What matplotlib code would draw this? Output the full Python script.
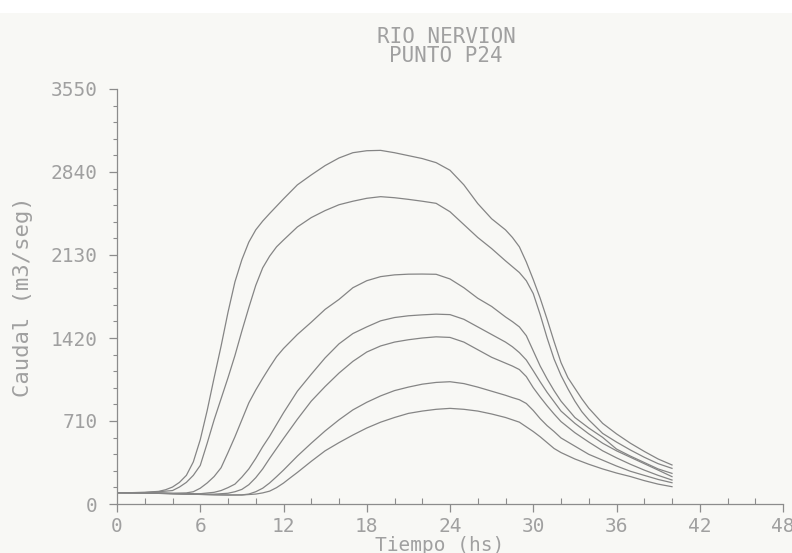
import numpy as np
import matplotlib.pyplot as plt
from matplotlib.ticker import MultipleLocator
from matplotlib.patches import Rectangle

plt.rcParams['font.family'] = ['DejaVu Sans Mono']

# Flow readings (m3/seg) for each hydrograph, with their times (hs)
t1 = [0, 1, 2, 3, 3.5, 4, 4.5, 5, 5.5, 6, 6.5, 7, 7.5, 8, 8.5, 9, 9.5, 10, 10.5, 11, 12, 13,
      14, 15, 16, 17, 18, 19, 20, 21, 22, 23, 24, 25, 26, 27, 28, 28.5, 29, 29.5, 30, 30.5,
      31, 31.5, 32, 32.5, 33, 33.5, 34, 35, 36, 37, 38, 39, 40]
q1 = [97, 97, 100, 108, 122, 145, 185, 245, 360, 550, 800, 1080, 1350, 1640, 1900, 2090,
      2240, 2345, 2420, 2485, 2610, 2730, 2815, 2895, 2960, 3005, 3022, 3025, 3005, 2980,
      2955, 2920, 2855, 2730, 2570, 2440, 2345, 2280, 2200, 2070, 1920, 1760, 1580, 1390,
      1210, 1080, 990, 900, 820, 690, 600, 520, 450, 385, 334]

t2 = [0, 1, 2, 3, 4, 4.5, 5, 5.5, 6, 6.5, 7, 7.5, 8, 8.5, 9, 9.5, 10, 10.5, 11, 11.5, 12,
      13, 14, 15, 16, 17, 18, 19, 20, 21, 22, 23, 24, 25, 26, 27, 28, 29, 29.5, 30, 30.5,
      31, 31.5, 32, 32.5, 33, 33.5, 34, 35, 36, 37, 38, 39, 40]
q2 = [97, 97, 98, 105, 115, 145, 185, 245, 330, 520, 720, 900, 1080, 1270, 1480, 1680,
      1870, 2020, 2120, 2200, 2258, 2370, 2450, 2510, 2560, 2590, 2615, 2629, 2620, 2606,
      2590, 2572, 2500, 2390, 2280, 2185, 2080, 1980, 1910, 1800, 1620, 1420, 1240, 1100,
      985, 880, 790, 720, 604, 530, 462, 400, 345, 305]

t3 = [0, 1, 2, 3, 4, 5, 5.5, 6, 6.5, 7, 7.5, 8, 8.5, 9, 9.5, 10, 10.5, 11, 11.5, 12, 13,
      14, 15, 16, 17, 18, 19, 20, 21, 22, 23, 24, 25, 26, 27, 28, 28.5, 29, 29.5, 30, 30.5,
      31, 31.5, 32, 32.5, 33, 34, 35, 36, 37, 38, 39, 40]
q3 = [97, 96, 95, 94, 92, 95, 105, 135, 180, 235, 310, 440, 575, 720, 865, 975, 1075,
      1170, 1260, 1330, 1450, 1555, 1665, 1750, 1850, 1910, 1945, 1960, 1966, 1967, 1965,
      1925, 1850, 1760, 1690, 1600, 1560, 1515, 1440, 1310, 1180, 1070, 970, 880, 810,
      740, 650, 570, 470, 410, 355, 300, 262]

t4 = [0, 1, 2, 3, 4, 5, 6, 7, 7.5, 8, 8.5, 9, 9.5, 10, 10.5, 11, 12, 13, 14, 15, 16, 17,
      18, 19, 20, 21, 22, 23, 24, 25, 26, 27, 28, 28.5, 29, 29.5, 30, 30.5, 31, 31.5, 32,
      33, 34, 35, 36, 37, 38, 39, 40]
q4 = [97, 96, 95, 93, 90, 88, 88, 100, 115, 140, 170, 230, 300, 390, 490, 580, 780, 965,
      1110, 1250, 1370, 1458, 1515, 1567, 1595, 1610, 1618, 1624, 1620, 1580, 1515, 1450,
      1385, 1345, 1295, 1232, 1140, 1045, 955, 875, 795, 690, 600, 520, 455, 400, 345,
      290, 234]

t5 = [0, 1, 2, 3, 4, 5, 6, 7, 8, 8.5, 9, 9.5, 10, 10.5, 11, 11.5, 12, 13, 14, 15, 16, 17,
      18, 19, 20, 21, 22, 23, 24, 25, 26, 27, 28, 28.5, 29, 29.5, 30, 30.5, 31, 31.5, 32,
      33, 34, 35, 36, 37, 38, 39, 40]
q5 = [97, 96, 95, 92, 89, 86, 84, 84, 92, 105, 125, 165, 225, 300, 390, 475, 560, 725,
      880, 1005, 1120, 1220, 1300, 1352, 1385, 1405, 1420, 1430, 1425, 1385, 1320, 1255,
      1205, 1180, 1150, 1090, 995, 915, 840, 770, 705, 610, 530, 455, 395, 340, 290, 245,
      205]

t6 = [0, 1, 2, 3, 4, 5, 6, 7, 8, 9, 9.5, 10, 10.5, 11, 11.5, 12, 13, 14, 15, 16, 17, 18,
      19, 20, 21, 22, 23, 24, 25, 26, 27, 28, 28.5, 29, 29.5, 30, 30.5, 31, 31.5, 32, 33,
      34, 35, 36, 37, 38, 39, 40]
q6 = [97, 96, 94, 91, 88, 85, 82, 79, 77, 78, 85, 105, 135, 180, 234, 290, 410, 520, 625,
      720, 805, 870, 925, 970, 1000, 1025, 1040, 1046, 1030, 1000, 965, 930, 910, 892,
      860, 800, 730, 670, 620, 565, 495, 425, 375, 325, 280, 245, 210, 182]

t7 = [0, 1, 2, 3, 4, 5, 6, 7, 8, 9, 10, 10.5, 11, 11.5, 12, 12.5, 13, 14, 15, 16, 17, 18,
      19, 20, 21, 22, 23, 24, 25, 26, 27, 28, 28.5, 29, 29.5, 30, 30.5, 31, 31.5, 32, 33,
      34, 35, 36, 37, 38, 39, 40]
q7 = [97, 96, 94, 91, 88, 85, 82, 79, 77, 77, 85, 95, 110, 140, 179, 225, 270, 365, 455,
      525, 590, 650, 700, 740, 775, 795, 810, 818, 810, 795, 770, 740, 720, 700, 660, 620,
      575, 525, 475, 440, 385, 340, 300, 265, 235, 200, 170, 148]

x_ticks = [0, 6, 12, 18, 24, 30, 36, 42, 48]
y_ticks = [0, 710, 1420, 2130, 2840, 3550]

gris_txt = '#a0a0a0'
gris_eje = '#8c8c8c'
gris_lin = '#858585'

fig = plt.figure(figsize=(7.92, 5.53), dpi=100, facecolor='#f8f8f5')
fig.patches.append(Rectangle((0, 1 - 13 / 553), 1, 13 / 553, transform=fig.transFigure,
                             facecolor='white', edgecolor='none', zorder=-1))
ax = fig.add_axes([117 / 792, 49 / 553, 666 / 792, 415 / 553])
ax.set_facecolor('none')

for t, q in [(t1, q1), (t2, q2), (t3, q3), (t4, q4), (t5, q5), (t6, q6), (t7, q7)]:
    ax.plot(t, q, color=gris_lin, linewidth=0.9)

ax.set_xlim(0, 48)
ax.set_ylim(0, 3550)
ax.set_xticks(x_ticks)
ax.set_yticks(y_ticks)
ax.xaxis.set_minor_locator(MultipleLocator(2))
ax.yaxis.set_minor_locator(MultipleLocator(142))

for s in ['top', 'right']:
    ax.spines[s].set_visible(False)
for s in ['left', 'bottom']:
    ax.spines[s].set_color(gris_eje)
    ax.spines[s].set_linewidth(0.9)

ax.tick_params(axis='x', which='major', direction='out', length=6, width=0.9,
               color=gris_eje, labelcolor=gris_txt, labelsize=14, pad=3)
ax.tick_params(axis='x', which='minor', direction='in', length=4, width=0.8, color=gris_eje)
ax.tick_params(axis='y', which='major', direction='out', length=6, width=0.9,
               color=gris_eje, labelcolor=gris_txt, labelsize=14, pad=8)
ax.tick_params(axis='y', which='minor', direction='out', length=3, width=0.8, color=gris_eje)

fig.text(440 / 792, 2 / 553, 'Tiempo (hs)', ha='center', va='baseline', color=gris_txt, fontsize=14)
fig.text(23 / 792, 1 - 297 / 553, 'Caudal (m3/seg)', ha='center', va='center', rotation=90,
         color=gris_txt, fontsize=16)

fig.text(446 / 792, 1 - 37 / 553, 'RIO NERVION', ha='center', va='center', color=gris_txt, fontsize=15)
fig.text(446 / 792, 1 - 56 / 553, 'PUNTO P24', ha='center', va='center', color=gris_txt, fontsize=15)

plt.savefig('out.png', dpi=100, facecolor=fig.get_facecolor())
